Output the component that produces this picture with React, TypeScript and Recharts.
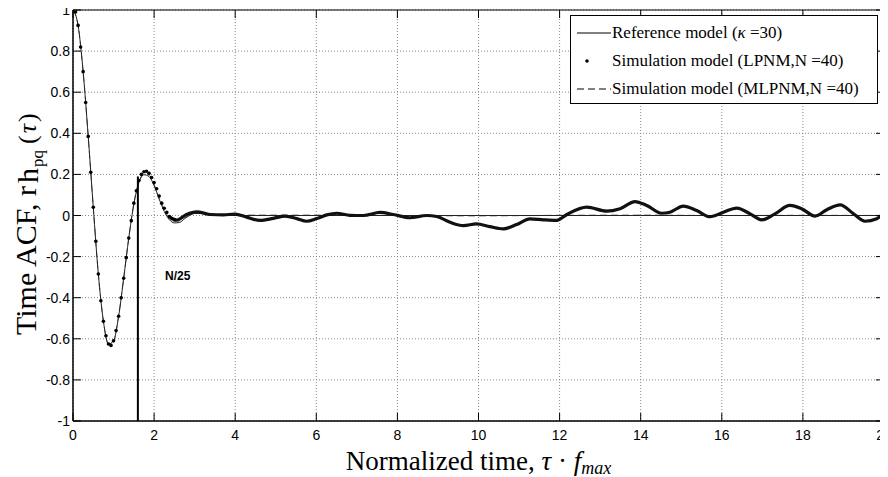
import React from 'react';
import { LineChart, Line, XAxis, YAxis, CartesianGrid, ReferenceLine, ReferenceArea } from 'recharts';

// tick values
const xTicks = [0, 2, 4, 6, 8, 10, 12, 14, 16, 18, 20];
const yTicks = [-1, -0.8, -0.6, -0.4, -0.2, 0, 0.2, 0.4, 0.6, 0.8, 1];

// Reference model (kappa = 30)
const refTau = [0, 0.125, 0.25, 0.375, 0.5, 0.625, 0.75, 0.875, 1.0, 1.125, 1.25, 1.375, 1.5, 1.625, 1.75, 1.875, 2.0, 2.125, 2.25, 2.375, 2.5, 2.625, 2.75, 2.875, 3.0, 3.25, 3.5, 4, 6, 8, 10, 12, 14, 16, 18, 20];
const refVal = [1, 0.925, 0.7, 0.385, 0.04, -0.285, -0.515, -0.625, -0.61, -0.49, -0.305, -0.11, 0.055, 0.16, 0.198, 0.19, 0.145, 0.08, 0.02, -0.02, -0.036, -0.034, -0.016, 0.0, 0.01, 0.01, 0.004, 0, 0, 0, 0, 0, 0, 0, 0, 0];

// Simulation model (MLPNM, N = 40)
const mlTau = [0, 0.125, 0.25, 0.375, 0.5, 0.625, 0.75, 0.875, 1.0, 1.125, 1.25, 1.375, 1.5, 1.625, 1.75, 1.875, 2.0, 2.125, 2.25, 2.375, 2.5, 2.625, 2.75, 3.0, 3.5, 4, 6, 8, 10, 12, 14, 16, 18, 20];
const mlVal = [1, 0.925, 0.7, 0.385, 0.04, -0.285, -0.515, -0.625, -0.61, -0.49, -0.305, -0.11, 0.057, 0.163, 0.203, 0.198, 0.152, 0.088, 0.028, -0.012, -0.028, -0.027, -0.012, 0.012, 0.005, 0.002, 0.002, 0, -0.002, 0.001, 0.002, 0, 0.001, 0];

// Simulation model (LPNM, N = 40): distinct samples near the origin
const lpTau = [0, 0.0625, 0.125, 0.1875, 0.25, 0.3125, 0.375, 0.4375, 0.5, 0.5625, 0.625, 0.6875, 0.75, 0.8125, 0.875, 0.9375, 1.0, 1.0625, 1.125, 1.1875, 1.25, 1.3125, 1.375, 1.4375, 1.5, 1.5625, 1.625, 1.6875, 1.75, 1.8125, 1.875, 1.9375, 2.0, 2.0625, 2.125, 2.1875, 2.25, 2.3125, 2.375, 2.4375, 2.5];
const lpVal = [1, 0.99, 0.925, 0.82, 0.7, 0.55, 0.385, 0.21, 0.04, -0.125, -0.285, -0.415, -0.515, -0.585, -0.625, -0.632, -0.61, -0.56, -0.49, -0.4, -0.305, -0.205, -0.11, -0.025, 0.06, 0.12, 0.17, 0.2, 0.213, 0.215, 0.205, 0.185, 0.16, 0.13, 0.095, 0.06, 0.035, 0.015, -0.005, -0.015, -0.02];

// LPNM continued (dense samples read as a thick trace)
const lpTailTau = [2.375, 2.5, 2.56, 2.8, 3.05, 3.38, 3.71, 3.99, 4.28, 4.61, 4.94, 5.23, 5.52, 5.76, 6.01, 6.26, 6.5, 6.83, 7.16, 7.57, 7.9, 8.31, 8.72, 8.97, 9.3, 9.63, 9.95, 10.28, 10.61, 10.94, 11.27, 11.6, 11.93, 12.18, 12.67, 13.16, 13.49, 13.86, 14.15, 14.52, 14.72, 15.05, 15.38, 15.71, 16.04, 16.37, 16.7, 16.98, 17.31, 17.68, 17.97, 18.3, 18.59, 18.92, 19.25, 19.53, 19.82, 20];
const lpTailVal = [-0.005, -0.02, -0.022, 0.005, 0.018, 0.005, 0.003, 0.007, -0.008, -0.024, -0.014, -0.003, -0.015, -0.028, -0.015, 0.003, 0.011, 0.001, 0.0, 0.015, 0.005, -0.011, 0, -0.005, -0.033, -0.049, -0.041, -0.054, -0.065, -0.044, -0.016, -0.021, -0.024, 0.005, 0.041, 0.021, 0.033, 0.068, 0.049, 0.011, 0.016, 0.046, 0.024, -0.006, 0.016, 0.036, 0.008, -0.021, 0.008, 0.049, 0.033, -0.003, 0.028, 0.052, 0.008, -0.028, -0.016, 0.016];

const zip = (t: number[], v: number[]) => t.map((x, i) => ({ t: x, v: v[i] }));
const refData = zip(refTau, refVal);
const mlData = zip(mlTau, mlVal);
const lpData = zip(lpTau, lpVal);
const lpTailData = zip(lpTailTau, lpTailVal);

const W = 880;
const H = 469;
const PLOT_LEFT = 65;
const PLOT_TOP = 2;
const PLOT_BOTTOM = 413;
const PLOT_RIGHT = 876;
const TICK = 8;

const sans = '"Liberation Sans", Arial, sans-serif';
const serif = '"Liberation Serif", "Times New Roman", serif';

const XTick = (p: any) => {
  const { x, payload } = p;
  return (
    <g>
      <line x1={x} x2={x} y1={PLOT_BOTTOM} y2={PLOT_BOTTOM - TICK} stroke="#000" />
      <line x1={x} x2={x} y1={PLOT_TOP} y2={PLOT_TOP + TICK} stroke="#000" />
      <text x={x} y={PLOT_BOTTOM + 19} textAnchor="middle" fontFamily={sans} fontSize={14} fill="#000">
        {payload.value}
      </text>
    </g>
  );
};

const YTick = (p: any) => {
  const { y, payload } = p;
  return (
    <g>
      <line x1={PLOT_LEFT} x2={PLOT_LEFT + TICK} y1={y} y2={y} stroke="#000" />
      <line x1={PLOT_RIGHT} x2={PLOT_RIGHT - TICK} y1={y} y2={y} stroke="#000" />
      <text x={PLOT_LEFT - 3} y={y + 5} textAnchor="end" fontFamily={sans} fontSize={14} fill="#000">
        {String(payload.value)}
      </text>
    </g>
  );
};

const XTitle = (p: any) => {
  const vb = p.viewBox;
  const cx = vb.x + vb.width / 2;
  return (
    <text x={cx} y={PLOT_BOTTOM + 49} textAnchor="middle" fontFamily={serif} fontSize={27} fill="#000">
      Normalized time, <tspan fontStyle="italic">τ</tspan> · <tspan fontStyle="italic">f</tspan>
      <tspan fontStyle="italic" fontSize={18} dy={4}>max</tspan>
    </text>
  );
};

const YTitle = () => {
  const bx = 28;
  const by = 327;
  return (
    <text x={bx} y={by} transform={`rotate(-90 ${bx} ${by})`} textAnchor="start" fontFamily={serif} fontSize={30} fill="#000">
      Time ACF, r
      <tspan dx={3} dy={2}>h</tspan>
      <tspan fontSize={17} dx={1} dy={5}>pq</tspan>
      <tspan fontSize={26} dx={6} dy={-7}>(</tspan>
      <tspan fontSize={26} dx={2} fontStyle="italic">τ</tspan>
      <tspan fontSize={26} dx={2}>)</tspan>
    </text>
  );
};

const rowStyle: React.CSSProperties = {
  display: 'flex',
  alignItems: 'center',
  height: 28,
  whiteSpace: 'nowrap',
};

function LegendBox() {
  return (
    <div
      style={{
        position: 'absolute',
        left: 562,
        top: 7,
        width: 308,
        height: 89,
        border: '1px solid #000',
        background: '#fff',
        fontFamily: serif,
        fontSize: 17,
        color: '#000',
        paddingTop: 3,
        boxSizing: 'border-box',
      }}
    >
      <div style={rowStyle}>
        <svg width={37} height={10} style={{ marginLeft: 4 }}>
          <line x1={2} x2={36} y1={5} y2={5} stroke="#000" strokeWidth={1} />
        </svg>
        <span>Reference model (<i>κ</i> =30)</span>
      </div>
      <div style={rowStyle}>
        <svg width={37} height={10} style={{ marginLeft: 4 }}>
          <circle cx={12} cy={5} r={1.8} fill="#000" />
        </svg>
        <span>Simulation model (LPNM,N =40)</span>
      </div>
      <div style={rowStyle}>
        <svg width={37} height={10} style={{ marginLeft: 4 }}>
          <line x1={2} x2={36} y1={5} y2={5} stroke="#000" strokeWidth={1} strokeDasharray="7 4" />
        </svg>
        <span>Simulation model (MLPNM,N =40)</span>
      </div>
    </div>
  );
}

export default function App() {
  return (
    <div style={{ position: 'relative', width: W, height: H }}>
      <LineChart width={W} height={H} margin={{ top: PLOT_TOP, right: W - PLOT_RIGHT, bottom: 0, left: 0 }}>
        <CartesianGrid stroke="#888" strokeDasharray="1 2" />
        <XAxis
          dataKey="t"
          type="number"
          domain={[0, 20]}
          ticks={xTicks}
          tick={XTick}
          tickLine={false}
          axisLine={{ stroke: '#000' }}
          height={H - PLOT_BOTTOM}
          interval={0}
          allowDataOverflow
          label={XTitle}
        />
        <YAxis
          type="number"
          domain={[-1, 1]}
          ticks={yTicks}
          tick={YTick}
          tickLine={false}
          axisLine={{ stroke: '#000' }}
          width={PLOT_LEFT}
          interval={0}
          allowDataOverflow
          label={YTitle}
        />
        <ReferenceArea x1={0} x2={20} y1={-1} y2={1} fill="none" stroke="#000" strokeWidth={1} />
        <Line data={mlData} dataKey="v" type="monotone" stroke="#666" strokeWidth={1} strokeDasharray="7 4" dot={false} isAnimationActive={false} />
        <Line data={refData} dataKey="v" type="monotone" stroke="#222" strokeWidth={1} dot={false} isAnimationActive={false} />
        <Line data={lpTailData} dataKey="v" type="monotone" stroke="#111" strokeWidth={3.2} dot={false} isAnimationActive={false} />
        <Line
          data={lpData}
          dataKey="v"
          type="monotone"
          stroke="none"
          dot={{ r: 1.8, fill: '#000', stroke: 'none' }}
          isAnimationActive={false}
        />
        <ReferenceLine
          segment={[{ x: 1.6, y: -1 }, { x: 1.6, y: 0.19 }]}
          stroke="#000"
          strokeWidth={2}
        />
        <ReferenceLine
          y={-0.4}
          stroke="none"
          label={{ value: 'N/25', position: 'insideLeft', dx: 87, dy: -22, fontFamily: sans, fontSize: 12, fontWeight: 'bold', fill: '#000' }}
        />
      </LineChart>
      <LegendBox />
    </div>
  );
}
